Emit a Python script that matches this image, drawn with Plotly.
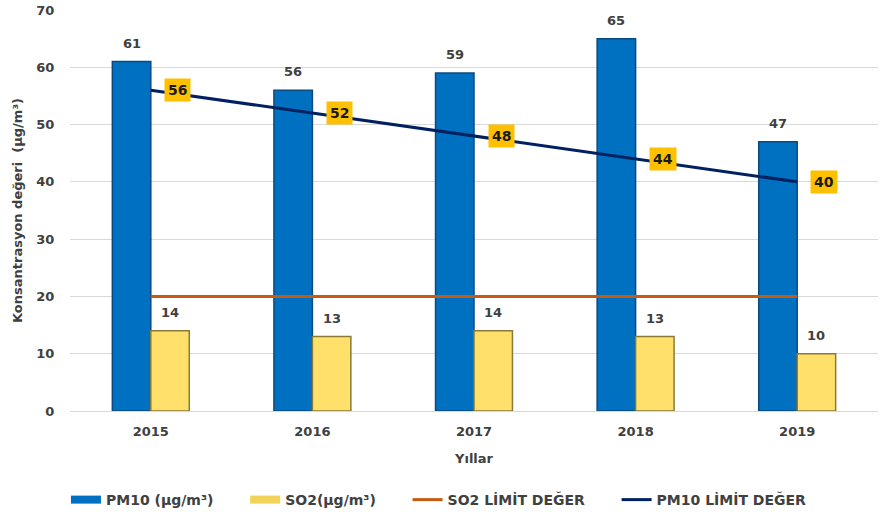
import plotly.graph_objects as go

years = ["2015", "2016", "2017", "2018", "2019"]
pm10 = [61, 56, 59, 65, 47]
so2 = [14, 13, 14, 13, 10]
so2_limit = [20, 20, 20, 20, 20]
pm10_limit = [56, 52, 48, 44, 40]

font_main = "'DejaVu Sans', Verdana, sans-serif"
txt_col = "#404040"
bargap = 0.524
half = (1 - bargap) / 4  # offset of each bar centre from category centre
pad = "\u00a0" * 6

fig = go.Figure()
fig.add_trace(go.Bar(
    x=years, y=pm10, name="PM10", showlegend=False, legendgroup="pm",
    marker=dict(color="#0070C0", line=dict(color="#0B4A80", width=1.5)),
))
fig.add_trace(go.Bar(
    x=years, y=so2, name="SO2", showlegend=False, legendgroup="so",
    marker=dict(color="#FFE06A", line=dict(color="#8A7A3A", width=1.5)),
))
# legend swatches for the bars (wide rectangles like the original)
fig.add_trace(go.Scatter(
    x=[None], y=[None], mode="lines", legendgroup="pm",
    name="<b>PM10 (µg/m³)</b>" + pad, line=dict(color="#0070C0", width=8),
))
fig.add_trace(go.Scatter(
    x=[None], y=[None], mode="lines", legendgroup="so",
    name="<b>SO2(µg/m³)</b>" + pad, line=dict(color="#F2D35A", width=8),
))
fig.add_trace(go.Scatter(
    x=years, y=so2_limit, name="<b>SO2 LİMİT DEĞER</b>" + pad, mode="lines",
    line=dict(color="#C55A11", width=3),
))
fig.add_trace(go.Scatter(
    x=years, y=pm10_limit, name="<b>PM10 LİMİT DEĞER</b>", mode="lines",
    line=dict(color="#002060", width=3),
))

for i, (a, b) in enumerate(zip(pm10, so2)):
    fig.add_annotation(x=i - half, y=a, text="<b>%d</b>" % a, showarrow=False,
                       yanchor="bottom", yshift=9,
                       font=dict(family=font_main, size=13, color=txt_col))
    fig.add_annotation(x=i + half, y=b, text="<b>%d</b>" % b, showarrow=False,
                       yanchor="bottom", yshift=9,
                       font=dict(family=font_main, size=13, color=txt_col))

for i, v in enumerate(pm10_limit):
    fig.add_annotation(
        x=i, y=v, text="<b>%d</b>" % v, showarrow=False, xshift=27,
        bgcolor="#FFC000", borderpad=3,
        font=dict(family=font_main, size=14, color="#1a1a1a"),
    )

fig.update_layout(
    width=880, height=518,
    margin=dict(l=70, r=2, t=10, b=100),
    plot_bgcolor="white", paper_bgcolor="white",
    barmode="group", bargap=bargap, bargroupgap=0,
    font=dict(family=font_main, size=13, color=txt_col),
    showlegend=True,
    legend=dict(orientation="h", x=-0.005, xanchor="left", y=-0.222, yanchor="middle",
                font=dict(family=font_main, size=14, color=txt_col),
                itemwidth=30, tracegroupgap=0, traceorder="normal"),
)
fig.update_xaxes(
    type="category", automargin=False,
    title=dict(text="<b>Yıllar</b>", font=dict(size=13, color=txt_col), standoff=16),
    tickfont=dict(size=13, color=txt_col),
    tickvals=years, ticktext=["<b>%s</b>" % y for y in years],
    showline=False, showgrid=False,
    ticks="outside", ticklen=8, tickcolor="rgba(0,0,0,0)",
)
fig.update_yaxes(
    range=[0, 70], automargin=False,
    tickvals=list(range(0, 71, 10)),
    ticktext=["<b>%d</b>" % v for v in range(0, 71, 10)],
    tickfont=dict(size=13, color=txt_col),
    title=dict(text="<b>Konsantrasyon değeri  (µg/m³)</b>", font=dict(size=13, color=txt_col), standoff=10),
    showgrid=True, gridcolor="#D9D9D9", gridwidth=1,
    zeroline=True, zerolinecolor="#D9D9D9", zerolinewidth=1,
    ticks="outside", ticklen=12, tickcolor="rgba(0,0,0,0)",
)

fig.write_html("out.html", config={"displayModeBar": False},
               post_script="document.body.style.margin='0';")
